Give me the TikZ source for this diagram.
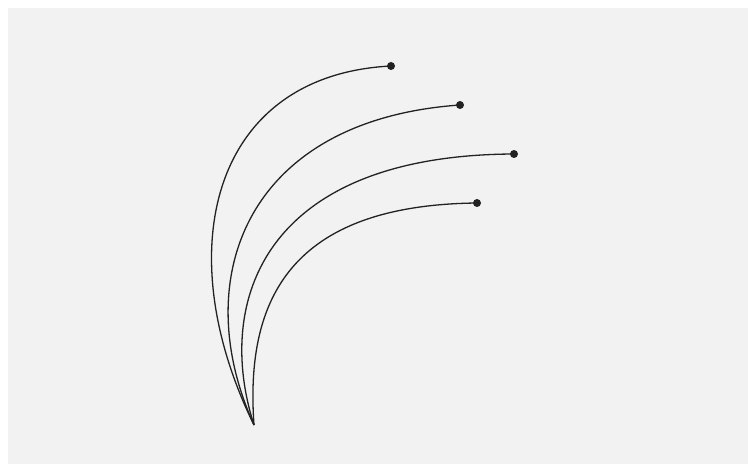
\documentclass[tikz,border=0pt]{standalone}
\usepackage{tikz}

\definecolor{bggray}{HTML}{F2F2F2}
\definecolor{inkdark}{HTML}{222222}

\begin{document}
\begin{tikzpicture}[
    x=0.5pt,
    y=-0.5pt,
    tip/.style={
        circle,
        fill=inkdark,
        inner sep=0pt,
        minimum size=4pt
    },
    stem/.style={
        draw=inkdark,
        line width=0.65pt
    }
]

    % Background
    \useasboundingbox (0,0) rectangle (748,464);
    \fill[bggray] (8,8) rectangle (748,464);

    % Root and tips
    \coordinate (root) at (254,425);
    \node[tip] (tipA) at (391,66) {};
    \node[tip] (tipB) at (460,105) {};
    \node[tip] (tipC) at (514,154) {};
    \node[tip] (tipD) at (477,203) {};

    % Curves
    \draw[stem] (root) .. controls (168,250) and (212,75) .. (tipA.center);
    \draw[stem] (root) .. controls (188,280) and (245,120) .. (tipB.center);
    \draw[stem] (root) .. controls (214,300) and (265,155) .. (tipC.center);
    \draw[stem] (root) .. controls (245,300) and (290,205) .. (tipD.center);

\end{tikzpicture}
\end{document}
